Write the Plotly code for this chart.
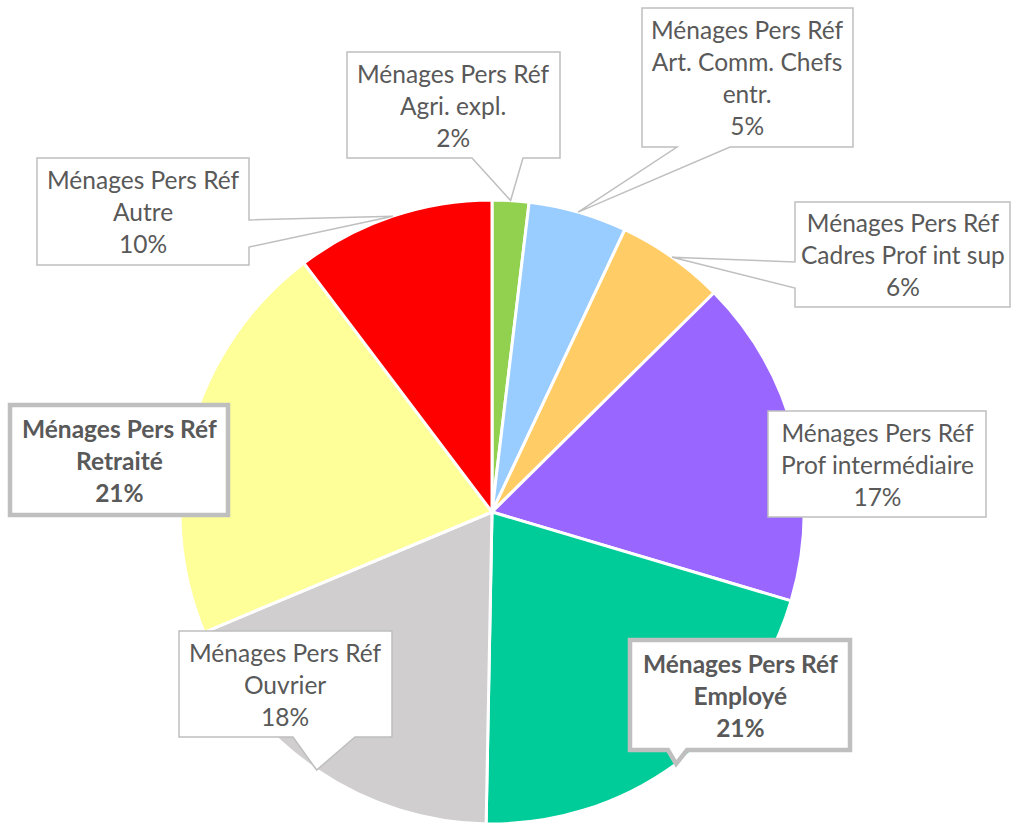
import math

import plotly.graph_objects as go

# ── Data ───────────────────────────────────────────────────────────────────────
categories = [
    "Agri. expl.",
    "Art. Comm. Chefs entr.",
    "Cadres Prof int sup",
    "Prof intermédiaire",
    "Employé",
    "Ouvrier",
    "Retraité",
    "Autre",
]
label_lines = [
    "Agri. expl.",
    "Art. Comm. Chefs<br>entr.",
    "Cadres Prof int sup",
    "Prof intermédiaire",
    "Employé",
    "Ouvrier",
    "Retraité",
    "Autre",
]
shares = [1.9, 5.1, 5.6, 17.0, 20.7, 18.4, 21.0, 10.3]
colors = ["#92D050", "#99CCFF", "#FFCC66", "#9966FF", "#00CC99", "#D0CECE", "#FFFF99", "#FF0000"]
highlighted = ["Employé", "Retraité"]
prefix = "Ménages Pers Réf"

# ── Layout (pixels) ────────────────────────────────────────────────────────────
W, H = 1017, 824
CX, CY, R = 492, 512, 312
GREY_TEXT = "#595959"
GREY_LINE = "#BFBFBF"

# box (x0, y0, x1, y1), pointer side, pointer base start/end
boxes = {
    "Agri. expl.": ((347, 52, 560, 158), "bottom", 472, 523),
    "Art. Comm. Chefs entr.": ((642, 8, 853, 147), "bottom", 677, 730),
    "Cadres Prof int sup": ((795, 202, 1010, 307), "left", 262, 288),
    "Prof intermédiaire": ((768, 411, 986, 517), None, 0, 0),
    "Employé": ((630, 640, 850, 750), "bottom", 668, 687),
    "Ouvrier": ((179, 631, 392, 737), "bottom", 293, 355),
    "Retraité": ((10, 405, 228, 515), None, 0, 0),
    "Autre": ((37, 158, 249, 265), "right", 220, 247),
}


def px(x, y):
    return x / W, 1 - y / H


def callout_path(box, side, b0, b1, tip):
    x0, y0, x1, y1 = box
    pts = [(x0, y0), (x1, y0)]
    if side == "right":
        pts += [(x1, b0), tip, (x1, b1)]
    pts.append((x1, y1))
    if side == "bottom":
        pts += [(b1, y1), tip, (b0, y1)]
    pts.append((x0, y1))
    if side == "left":
        pts += [(x0, b1), tip, (x0, b0)]
    coords = [px(*p) for p in pts]
    return "M " + " L ".join(f"{a:.5f},{b:.5f}" for a, b in coords) + " Z"


total = sum(shares)
fig = go.Figure(
    go.Pie(
        labels=categories,
        values=shares,
        sort=False,
        direction="clockwise",
        rotation=0,
        marker=dict(colors=colors, line=dict(color="white", width=3)),
        textinfo="none",
        hoverinfo="label+percent",
        showlegend=False,
        domain=dict(
            x=[(CX - R) / W, (CX + R) / W],
            y=[(H - CY - R) / H, (H - CY + R) / H],
        ),
    )
)

shapes = []
annotations = []
cum = 0.0
for cat, lines, v in zip(categories, label_lines, shares):
    mid = (cum + v / 2) / total * 2 * math.pi
    cum += v
    tip = (CX + R * math.sin(mid), CY - R * math.cos(mid))
    box, side, b0, b1 = boxes[cat]
    bold = cat in highlighted
    shapes.append(dict(
        type="path",
        xref="paper", yref="paper",
        path=callout_path(box, side, b0, b1, tip),
        fillcolor="white",
        line=dict(color=GREY_LINE, width=4.5 if bold else 1.5),
        layer="above",
    ))
    pct = f"{round(v / total * 100)}%"
    text = f"{prefix}<br>{lines}<br>{pct}"
    if bold:
        text = f"<b>{text}</b>"
    cx, cy = px((box[0] + box[2]) / 2, (box[1] + box[3]) / 2)
    annotations.append(dict(
        x=cx, y=cy, xref="paper", yref="paper",
        text=text, showarrow=False,
        xanchor="center", yanchor="middle",
        font=dict(family="Lato", size=24.5, color=GREY_TEXT),
    ))

fig.update_layout(
    width=W,
    height=H,
    margin=dict(l=0, r=0, t=0, b=0),
    paper_bgcolor="white",
    plot_bgcolor="white",
    shapes=shapes,
    annotations=annotations,
)
fig.write_html(
    "out.html",
    config={"displayModeBar": False},
    post_script="document.body.style.margin = '0';",
)
